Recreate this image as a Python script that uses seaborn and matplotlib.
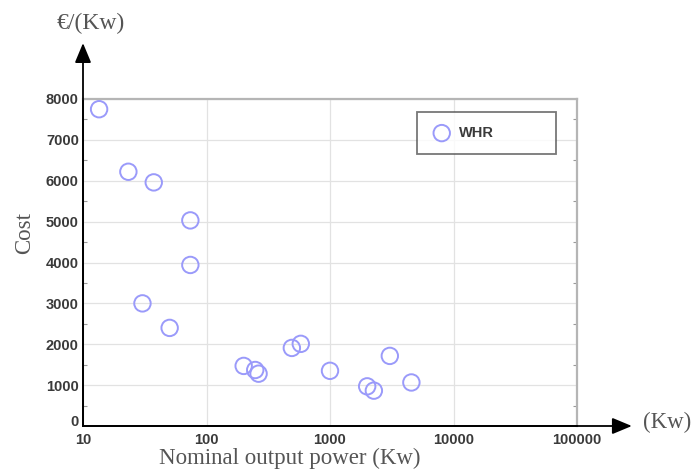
import numpy as np
import pandas as pd
import matplotlib
matplotlib.use("Agg")
import matplotlib.pyplot as plt
import matplotlib.ticker as mticker
import matplotlib.transforms as mtransforms
import seaborn as sns

# data
power_kw = [13.5, 23.3, 37.4, 74, 74, 30.3, 50.3, 200, 248, 264, 491, 580, 1000,
            3050, 2000, 2265, 4560]
cost_eur = [7750, 6220, 5960, 5030, 3940, 3000, 2400, 1470, 1370, 1280, 1910, 2010, 1350,
            1715, 970, 865, 1065]
series_label = "WHR"
x_ticks = [10, 100, 1000, 10000, 100000]
y_ticks = [0, 1000, 2000, 3000, 4000, 5000, 6000, 7000, 8000]

df = pd.DataFrame({"power": power_kw, "cost": cost_eur})

sns.set_style("white")
plt.rcParams['font.family'] = ['Liberation Sans', 'DejaVu Sans']

fig = plt.figure(figsize=(6.96, 4.72), dpi=100)
ax = fig.add_axes([83 / 696, 1 - 426 / 472, 494 / 696, 327 / 472])

sns.scatterplot(data=df, x="power", y="cost", ax=ax, marker="o", s=140,
                facecolors="none", edgecolors="#9a9afa", linewidth=1.4,
                label=series_label, zorder=3)

ax.set_xscale("log")
ax.set_xlim(10, 100000)
ax.set_ylim(0, 8000)
ax.xaxis.set_major_locator(mticker.FixedLocator(x_ticks))
ax.xaxis.set_minor_locator(mticker.NullLocator())
ax.xaxis.set_major_formatter(mticker.FuncFormatter(lambda v, _: f"{int(v)}"))
ax.yaxis.set_major_locator(mticker.FixedLocator(y_ticks))
ax.yaxis.set_minor_locator(mticker.MultipleLocator(500))

ax.grid(True, which="major", color="#e2e2e2", linewidth=0.9)
ax.tick_params(axis="both", which="major", length=0, labelsize=10.5, labelcolor="#3a3a3a")
ax.tick_params(axis="y", which="major", pad=3)
ax.tick_params(axis="x", which="major", pad=5)
ax.tick_params(axis="y", which="minor", direction="in", length=3, color="#9a9a9a",
               left=True, right=True, width=0.8)
for lab in ax.get_xticklabels() + ax.get_yticklabels():
    lab.set_fontweight("bold")

# lift the "0" label a little so it clears the "10" below it
zero_lab = ax.get_yticklabels()[0]
zero_lab.set_transform(zero_lab.get_transform()
                       + mtransforms.ScaledTranslation(0, 4 / 72, fig.dpi_scale_trans))

for side in ["top", "right"]:
    ax.spines[side].set_color("#b5b5b5")
    ax.spines[side].set_linewidth(1.6)
for side in ["left", "bottom"]:
    ax.spines[side].set_color("black")
    ax.spines[side].set_linewidth(1.3)

serif = ["Liberation Serif", "DejaVu Serif"]
ax.set_xlabel("Nominal output power (Kw)", family=serif, fontsize=16.5, color="#555555")
ax.xaxis.set_label_coords(0.419, -0.066)
ax.set_ylabel("Cost", family=serif, fontsize=16.5, color="#555555")
ax.yaxis.set_label_coords(-0.097, 0.59)

fig.text(91 / 696, 1 - 23 / 472, "€/(Kw)", family=serif, fontsize=17, color="#555555",
         ha="center", va="center")
fig.text(643 / 696, 1 - 422 / 472, "(Kw)", family=serif, fontsize=16.5, color="#555555",
         ha="left", va="center")

arrow = dict(arrowstyle="-|>,head_length=0.6,head_width=0.25", color="black", lw=1.3,
             mutation_scale=20, shrinkA=0, shrinkB=0)
ax.annotate("", xy=(1.111, 0), xytext=(0, 0), xycoords="axes fraction",
            arrowprops=arrow, annotation_clip=False)
ax.annotate("", xy=(0, 1.171), xytext=(0, 0), xycoords="axes fraction",
            arrowprops=arrow, annotation_clip=False)

leg = ax.legend(loc="upper left", bbox_to_anchor=(0.676, 0.823, 0.281, 0.137),
                mode="expand", frameon=True, fancybox=False, borderpad=0.95,
                borderaxespad=0,
                prop={"family": "Liberation Sans", "weight": "bold", "size": 10.5},
                handletextpad=0.4, handlelength=1.5)
leg.get_frame().set_edgecolor("#555555")
leg.get_frame().set_linewidth(1.3)
for t in leg.get_texts():
    t.set_color("#3a3a3a")

fig.savefig("out.png", dpi=100)
